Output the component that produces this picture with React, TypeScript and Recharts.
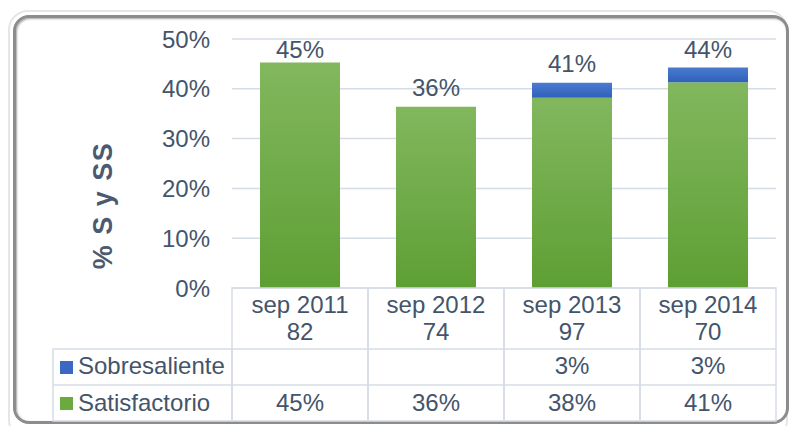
import React from 'react';
import { BarChart, Bar, XAxis, YAxis, CartesianGrid, LabelList } from 'recharts';

const categories = ['sep 2011', 'sep 2012', 'sep 2013', 'sep 2014'];
const sampleSizes = [82, 74, 97, 70];
const satisfactorio = [45.3, 36.4, 38.2, 41.3];
const sobresaliente = [0, 0, 3.0, 3.0];
const sobresalienteShown = [false, false, true, true];
const yTicks = [0, 10, 20, 30, 40, 50];
const seriesNames = ['Sobresaliente', 'Satisfactorio'];
const axisTitle = '% S y SS';

const data = categories.map((c, i) => ({
  name: c,
  n: sampleSizes[i],
  sat: satisfactorio[i],
  sob: sobresaliente[i],
  total: satisfactorio[i] + sobresaliente[i],
}));

const W = 794;
const H = 426;
const PLOT_TOP = 39;
const COL_W = 136;
const HEADER_H = 61;
const ROW_H = 36;
const TEXT = '#44546A';
const GRID = '#D6DCE5';
const FONT = '"Liberation Sans", Arial, sans-serif';
const FS = 24;
const BLUE = '#3A68C2';
const GREEN = '#6AAA3F';

function TableTick(props: any) {
  const { x, y, index } = props;
  const d = data[index];
  const left = x - COL_W / 2;
  const r1 = y + HEADER_H;
  const r2 = r1 + ROW_H;
  const bottom = r2 + ROW_H;
  const tp = { fill: TEXT, fontSize: FS, fontFamily: FONT, textAnchor: 'middle' as const };
  return (
    <g>
      <rect x={left} y={y} width={COL_W} height={bottom - y} fill="none" stroke={GRID} strokeWidth={1.5} />
      <line x1={left} x2={left + COL_W} y1={r1} y2={r1} stroke={GRID} strokeWidth={1.5} />
      <line x1={left} x2={left + COL_W} y1={r2} y2={r2} stroke={GRID} strokeWidth={1.5} />
      <text x={x} y={y + 25} {...tp}>{d.name}</text>
      <text x={x} y={y + 52} {...tp}>{d.n}</text>
      <text x={x} y={r1 + 25} {...tp}>{sobresalienteShown[index] ? `${Math.round(d.sob)}%` : ''}</text>
      <text x={x} y={r2 + 26} {...tp}>{`${Math.round(d.sat)}%`}</text>
      {index === 0 && (
        <g>
          <rect x={53} y={r1} width={left - 53} height={ROW_H * 2} fill="none" stroke={GRID} strokeWidth={1.5} />
          <line x1={53} x2={left} y1={r2} y2={r2} stroke={GRID} strokeWidth={1.5} />
          <rect x={60} y={r1 + 12} width={13} height={13} fill={BLUE} />
          <rect x={60} y={r2 + 12} width={13} height={13} fill={GREEN} />
          <text x={78} y={r1 + 25} fill={TEXT} fontSize={FS} fontFamily={FONT}>{seriesNames[0]}</text>
          <text x={78} y={r2 + 26} fill={TEXT} fontSize={FS} fontFamily={FONT}>{seriesNames[1]}</text>
        </g>
      )}
    </g>
  );
}

function AxisTitle(props: any) {
  const vb = props.viewBox || { x: 0, y: 0, width: 0, height: 0 };
  const cx = vb.x - 69;
  const cy = vb.y + vb.height / 2 + 42;
  return (
    <text
      x={cx}
      y={cy}
      transform={`rotate(-90 ${cx} ${cy})`}
      textAnchor="middle"
      dominantBaseline="central"
      fill="#4A5A70"
      fontSize={27}
      fontWeight="bold"
      letterSpacing={1.5}
      fontFamily={FONT}
    >
      {axisTitle}
    </text>
  );
}

function TotalLabel(props: any) {
  const { x, y, width, height, index } = props;
  const d = data[index];
  if (!d || !d.sat) return null;
  const pxPerUnit = Number(height) / d.sat;
  const topY = Number(y) - d.sob * pxPerUnit;
  return (
    <text
      x={Number(x) + Number(width) / 2}
      y={Math.max(topY - 11, PLOT_TOP + 19)}
      textAnchor="middle"
      fill={TEXT}
      fontSize={FS}
      fontFamily={FONT}
    >
      {`${Math.round(d.total)}%`}
    </text>
  );
}

export default function App() {
  return (
    <div style={{ position: 'absolute', left: 0, top: 0, width: W, height: H, background: '#fff', overflow: 'hidden' }}>
      <div
        style={{
          position: 'absolute', left: 8, top: 10, width: 780, height: 430,
          border: '2px solid #E6E6E6', borderRadius: 20, boxSizing: 'border-box',
        }}
      />
      <div
        style={{
          position: 'absolute', left: 13, top: 15, width: 776, height: 409,
          border: '3px solid #8C8C8C', borderRadius: 16, boxSizing: 'border-box',
          boxShadow: 'inset 1px 1px 2px rgba(0,0,0,0.35)',
        }}
      />
      <div style={{ position: 'absolute', left: 0, top: 0 }}>
        <BarChart width={W} height={H} data={data} margin={{ top: PLOT_TOP, right: 18, bottom: 0, left: 172 }}>
          <defs>
            <linearGradient id="gGreen" x1="0" y1="0" x2="0" y2="1">
              <stop offset="0%" stopColor="#82B75E" />
              <stop offset="100%" stopColor="#5E9F34" />
            </linearGradient>
            <linearGradient id="gBlue" x1="0" y1="0" x2="0" y2="1">
              <stop offset="0%" stopColor="#4B7BCF" />
              <stop offset="100%" stopColor="#2F60BB" />
            </linearGradient>
          </defs>
          <CartesianGrid vertical={false} stroke={GRID} strokeWidth={1.5} />
          <XAxis
            dataKey="name"
            height={138}
            tickLine={false}
            axisLine={false}
            tickSize={0}
            tickMargin={0}
            interval={0}
            tick={<TableTick />}
          />
          <YAxis
            width={60}
            domain={[0, 50]}
            ticks={yTicks}
            tickFormatter={(v: number) => `${v}%`}
            tickLine={false}
            axisLine={false}
            tickMargin={16}
            tick={{ fill: TEXT, fontSize: FS, fontFamily: FONT }}
            label={<AxisTitle />}
          />
          <Bar dataKey="sat" stackId="a" fill="url(#gGreen)" barSize={80} isAnimationActive={false}>
            <LabelList dataKey="total" content={<TotalLabel />} />
          </Bar>
          <Bar dataKey="sob" stackId="a" fill="url(#gBlue)" barSize={80} isAnimationActive={false} />
        </BarChart>
      </div>
    </div>
  );
}
